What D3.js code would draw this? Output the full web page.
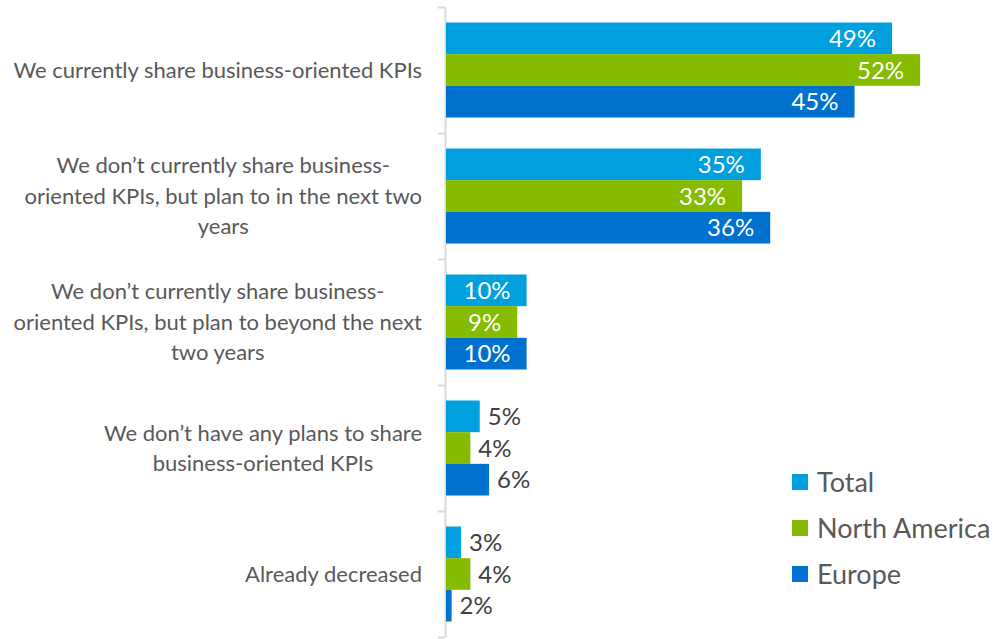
<!DOCTYPE html>
<html>
<head>
<meta charset="utf-8">
<script src="https://cdn.jsdelivr.net/npm/d3@7"></script>
<style>
  html, body { margin: 0; padding: 0; background: #fff; }
  svg { display: block; }
</style>
</head>
<body>
<svg id="chart" width="994" height="639"></svg>
<script>
// ---- data ----
const categories = [
  ["We currently share business-oriented KPIs"],
  ["We don’t currently share business-", "oriented KPIs, but plan to in the next two", "years"],
  ["We don’t currently share business-", "oriented KPIs, but plan to beyond the next", "two years"],
  ["We don’t have any plans to share", "business-oriented KPIs"],
  ["Already decreased"]
];
const seriesNames = ["Total", "North America", "Europe"];
const totalValues = [49, 35, 10, 5, 3];
const northAmericaValues = [52, 33, 9, 4, 4];
const europeValues = [45, 36, 10, 6, 2];
const seriesColors = ["#00A0DF", "#86BC00", "#0071CE"];

const seriesValues = [totalValues, northAmericaValues, europeValues];

// ---- layout ----
const svg = d3.select("#chart");
const font = "Lato, 'Open Sans', sans-serif";
const axisX = 445;
const barStart = 446;

const x = d3.scaleLinear().domain([1.4, 60]).range([barStart, barStart + 58.6 * 9.37]);
const y = d3.scaleBand().domain(d3.range(categories.length)).range([7, 637])
  .paddingInner(0.246).paddingOuter(0.123);
const ySub = d3.scaleBand().domain(seriesNames).range([0, y.bandwidth()]);

// axis with ticks at category boundaries
const yBoundary = d3.scaleLinear().domain([0, categories.length]).range([7, 637]);
const axisG = svg.append("g")
  .attr("transform", `translate(${axisX},0)`)
  .call(d3.axisLeft(yBoundary).tickValues(d3.range(categories.length + 1))
    .tickSizeInner(7).tickSizeOuter(0).tickFormat(""));
axisG.select(".domain").attr("stroke", "#d9d9d9").attr("stroke-width", 2);
axisG.selectAll(".tick line").attr("stroke", "#d9d9d9").attr("stroke-width", 2);

// bars
const groups = svg.append("g").selectAll("g")
  .data(categories.map((c, i) => i))
  .join("g")
  .attr("transform", i => `translate(0,${y(i)})`);

groups.each(function(ci) {
  const g = d3.select(this);
  seriesNames.forEach((s, si) => {
    const v = seriesValues[si][ci];
    const x1 = x(v);
    g.append("rect")
      .attr("x", barStart)
      .attr("y", ySub(s))
      .attr("width", Math.max(0, x1 - barStart))
      .attr("height", ySub.bandwidth())
      .attr("fill", seriesColors[si]);
    const inside = (x1 - barStart) > 60;
    g.append("text")
      .attr("x", inside ? x1 - 16 : x1 + 8)
      .attr("y", ySub(s) + ySub.bandwidth() / 2)
      .attr("dy", "0.36em")
      .attr("text-anchor", inside ? "end" : "start")
      .attr("font-family", font)
      .attr("font-size", 24)
      .attr("fill", inside ? "#ffffff" : "#404040")
      .text(v + "%");
  });
});

// category labels
const labelRight = 422;
const lineH = 30.5;
categories.forEach((lines, ci) => {
  const cy = y(ci) + y.bandwidth() / 2;
  const t = svg.append("text")
    .attr("font-family", font)
    .attr("font-size", 22)
    .attr("fill", "#595959")
    .attr("text-anchor", "middle");
  const spans = lines.map((ln, li) =>
    t.append("tspan")
      .attr("y", cy + (li - (lines.length - 1) / 2) * lineH)
      .attr("dy", "0.36em")
      .text(ln));
  let maxW = 0;
  spans.forEach(sp => { maxW = Math.max(maxW, sp.node().getComputedTextLength()); });
  spans.forEach(sp => sp.attr("x", labelRight - maxW / 2));
});

// legend
const legend = svg.append("g").attr("transform", "translate(792,482)");
seriesNames.forEach((s, si) => {
  const row = legend.append("g").attr("transform", `translate(0,${si * 46})`);
  row.append("rect").attr("x", 0).attr("y", -8).attr("width", 16).attr("height", 16)
    .attr("fill", seriesColors[si]);
  row.append("text").attr("x", 25).attr("y", 0).attr("dy", "0.36em")
    .attr("font-family", font).attr("font-size", 27).attr("fill", "#595959")
    .text(s);
});
</script>
</body>
</html>
